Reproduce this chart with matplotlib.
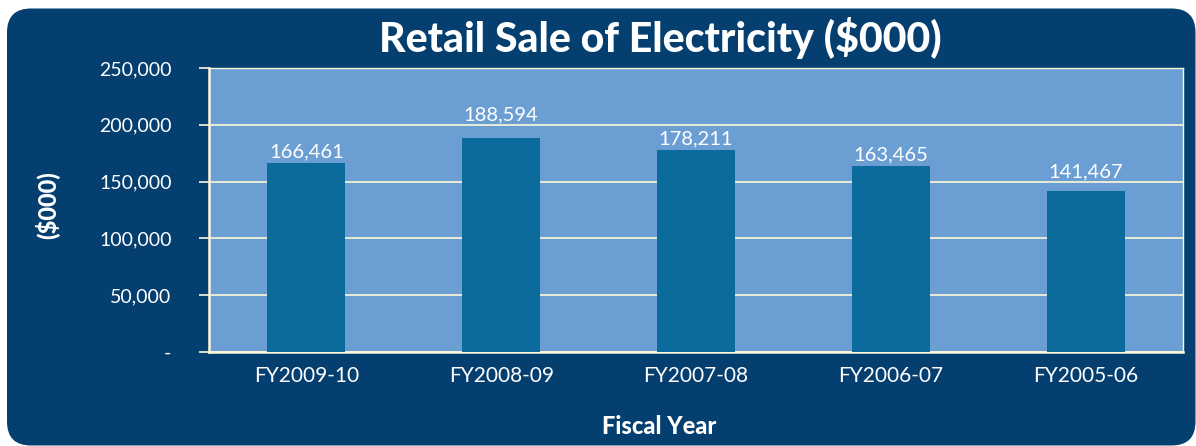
import matplotlib
matplotlib.use('Agg')
import matplotlib.pyplot as plt
from matplotlib.patches import FancyBboxPatch
from matplotlib.ticker import FuncFormatter

# Data
years = ['FY2009-10', 'FY2008-09', 'FY2007-08', 'FY2006-07', 'FY2005-06']
sales = [166461, 188594, 178211, 163465, 141467]
yticks = [0, 50000, 100000, 150000, 200000, 250000]

# gap between bar top and label baseline, in points (labels were nudged off gridlines)
label_gap = [4.3, 12.2, 3.6, 4.3, 10.0]

PANEL = '#053f70'
PLOT_BG = '#6b9fd4'
BAR = '#0c6b9d'
GRID = '#fdf8d8'

plt.rcParams['font.family'] = ['Lato', 'DejaVu Sans']

W, H = 1196, 446
fig = plt.figure(figsize=(W / 100, H / 100), dpi=100)
fig.patch.set_facecolor('white')

# rounded dark panel behind everything
panel = FancyBboxPatch((7 / W, 0.5 / H), (W - 7.5) / W, (H - 9) / H,
                       boxstyle='round,pad=0,rounding_size=0.02',
                       transform=fig.transFigure, facecolor=PANEL,
                       edgecolor='none', zorder=-5, mutation_aspect=W / H)
fig.patches.append(panel)

ax = fig.add_axes([209 / W, 1 - 352 / H, (1183 - 209) / W, (352 - 68) / H])
ax.set_zorder(2)
ax.set_facecolor(PLOT_BG)

x = range(len(years))
ax.bar(x, sales, width=0.4, color=BAR, zorder=3)
for i, v, g in zip(x, sales, label_gap):
    ax.annotate(f'{v:,}', (i, v), xytext=(0, g), textcoords='offset points',
                ha='center', va='baseline', color='white', fontsize=14.5, zorder=4)

ax.set_xlim(-0.5, len(years) - 0.5)
ax.set_ylim(0, 250000)
ax.set_yticks(yticks)
ax.yaxis.set_major_formatter(FuncFormatter(lambda v, p: '-' if v == 0 else f'{int(v):,}'))
ax.set_xticks(list(x))
ax.set_xticklabels(years)
ax.grid(axis='y', color=GRID, linewidth=1.2, zorder=1)

for side in ['left', 'bottom', 'top', 'right']:
    ax.spines[side].set_color(GRID)
ax.spines['left'].set_linewidth(1.8)
ax.spines['bottom'].set_linewidth(1.8)
ax.spines['top'].set_linewidth(1.0)
ax.spines['right'].set_linewidth(1.0)

ax.tick_params(axis='y', colors=GRID, length=7, width=1.2, labelcolor='white',
               labelsize=14, pad=20)
ax.tick_params(axis='x', length=0, labelcolor='white', labelsize=15, pad=10)

fig.text(660 / W, 1 - 38 / H, 'Retail Sale of Electricity ($000)', ha='center',
         va='center', color='white', fontsize=29.5, fontweight='black')
fig.text(48 / W, 1 - 205 / H, '($000)', ha='center', va='center', rotation=90,
         color='white', fontsize=17, fontweight='black')
fig.text(659 / W, 1 - 427 / H, 'Fiscal Year', ha='center', va='center',
         color='white', fontsize=17, fontweight='black')

fig.savefig('out.png', dpi=100)
